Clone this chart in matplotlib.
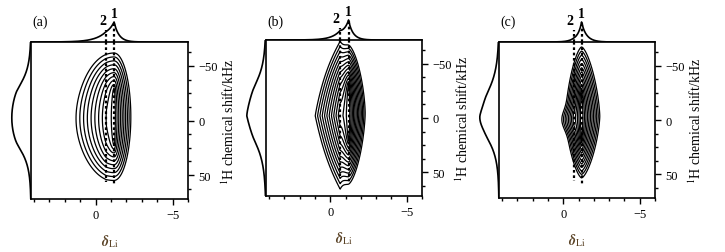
import numpy as np
import matplotlib.pyplot as plt

plt.rcParams['font.family'] = ['Liberation Serif', 'DejaVu Serif']
plt.rcParams['mathtext.fontset'] = 'stix'

# panel labels and positions of the two marked 7Li peaks (ppm)
panel_labels = ['(a)', '(b)', '(c)']
peak1_pos = [-1.2, -1.2, -1.2]
peak2_pos = [-0.7, -0.65, -0.7]

# main line at peak 1: 1H range of its crest (kHz), left / right 7Li width,
# top / bottom 1H width, shape exponent
ridge_top = [-27, -28, -22]
ridge_bot = [20, 18, 15]
m_xwl = [0.66, 0.50, 0.30]
m_xwr = [0.31, 0.31, 0.34]
m_ywt = [10, 11, 13]
m_ywb = [10, 12, 11]
m_p = [2.0, 1.6, 1.5]
# shoulder at peak 2: amplitude, left / right 7Li width, 1H centre, 1H width, 1H exponent
s_amp = [0.10, 0.26, 0.10]
s_xwl = [0.75, 0.62, 0.45]
s_xwr = [0.30, 0.30, 0.25]
s_y0 = [0, -2, 0]
s_yw = [28, 26, 10]
s_qy = [2.0, 1.0, 2.0]
# number of contour levels (geometric between exp(-3.5) and exp(-0.25))
n_levels = [10, 13, 12]

# axes boxes in pixels: left, top, right, bottom
boxes = [(31, 43, 188, 200), (266, 41, 422, 197), (499, 43, 655, 199)]

W, H = 725, 253
fig = plt.figure(figsize=(W / 100, H / 100), dpi=100)

xs = np.linspace(4.2, -6, 600)
ys = np.linspace(-72, 72, 500)
X, Y = np.meshgrid(xs, ys)

dots = (0, (1.2, 1.2))


def oval_distance(i):
    # d such that the point lies on an oval with semi-axes d*xw and B0 + d*yw
    yc = (ridge_top[i] + ridge_bot[i]) / 2
    dx = X - peak1_pos[i]
    dy = Y - yc
    xw = np.where(dx > 0, m_xwl[i], m_xwr[i])
    yw = np.where(dy < 0, m_ywt[i], m_ywb[i])
    b0 = np.where(dy < 0, yc - ridge_top[i], ridge_bot[i] - yc)
    p = m_p[i]
    lo = np.full(X.shape, 1e-6)
    hi = np.full(X.shape, 30.0)
    for _ in range(40):
        mid = (lo + hi) / 2
        f = (np.abs(dx) / (mid * xw)) ** p + (np.abs(dy) / (b0 + mid * yw)) ** p
        outside = f > 1
        lo = np.where(outside, mid, lo)
        hi = np.where(outside, hi, mid)
    return (lo + hi) / 2


for i in range(3):
    l, t, r, b = boxes[i]
    rect = [l / W, 1 - b / H, (r - l) / W, (b - t) / H]
    ax = fig.add_axes(rect)

    Z = np.exp(-oval_distance(i))
    dx2 = X - peak2_pos[i]
    u2 = np.abs(dx2) / np.where(dx2 > 0, s_xwl[i], s_xwr[i])
    Z = Z + s_amp[i] * np.exp(-u2 - np.abs((Y - s_y0[i]) / s_yw[i]) ** s_qy[i])
    Z = Z / Z.max()

    levels = np.geomspace(np.exp(-3.5), np.exp(-0.25), n_levels[i])
    ax.contour(X, Y, Z, levels=levels, colors='k', linewidths=0.9)

    ax.plot([peak1_pos[i]] * 2, [-72, 60], color='k', lw=1.6, ls=dots)
    ax.plot([peak2_pos[i]] * 2, [-72, 56], color='k', lw=1.6, ls=dots)

    ax.set_xlim(4.2, -6)
    ax.set_ylim(72, -72)
    ax.set_xticks([0, -5])
    ax.set_xticks(np.arange(4, -7, -1), minor=True)
    ax.set_yticks([-50, 0, 50])
    ax.set_yticks(np.arange(-62.5, 70, 12.5), minor=True)
    ax.yaxis.tick_right()
    ax.yaxis.set_label_position('right')
    ax.tick_params(which='both', direction='out', labelsize=9, width=1)
    ax.tick_params(which='major', length=4)
    ax.tick_params(which='minor', length=2.5)
    ax.set_xticklabels(['0', '\u22125'])
    ax.set_yticklabels(['\u221250', '0', '50'])
    for s in ax.spines.values():
        s.set_linewidth(1.2)
    ax.set_ylabel('$^{1}$H chemical shift/kHz', fontsize=10, labelpad=2)
    ax.set_xlabel(r'$\boldsymbol{\delta}_{\mathrm{Li}}$', fontsize=10, labelpad=8, color='#5a4326')

    # top projection
    px = Z.sum(axis=0)
    px = px / px.max()
    axt = fig.add_axes([l / W, 1 - t / H, (r - l) / W, 26 / H])
    axt.plot(xs, px, color='k', lw=1.2)
    axt.plot([peak1_pos[i]] * 2, [0, 1.0], color='k', lw=1.6, ls=dots)
    axt.plot([peak2_pos[i]] * 2, [0, 0.62], color='k', lw=1.6, ls=dots)
    axt.text(peak1_pos[i], 1.08, '1', ha='center', va='bottom', fontsize=10, fontweight='bold')
    axt.text(peak2_pos[i] + 0.25, 0.75, '2', ha='center', va='bottom', fontsize=10, fontweight='bold')
    axt.set_xlim(4.2, -6)
    axt.set_ylim(0, 1.3)
    axt.axis('off')

    # left projection
    py = Z.sum(axis=1)
    py = py / py.max()
    axl = fig.add_axes([(l - 24) / W, 1 - b / H, 24 / W, (b - t) / H])
    axl.plot(py, ys, color='k', lw=1.2)
    axl.set_xlim(1.25, 0)
    axl.set_ylim(72, -72)
    axl.axis('off')

    fig.text((l + 9) / W, 1 - 22 / H, panel_labels[i], ha='center', va='center', fontsize=10)

fig.savefig('out.png', dpi=100)
